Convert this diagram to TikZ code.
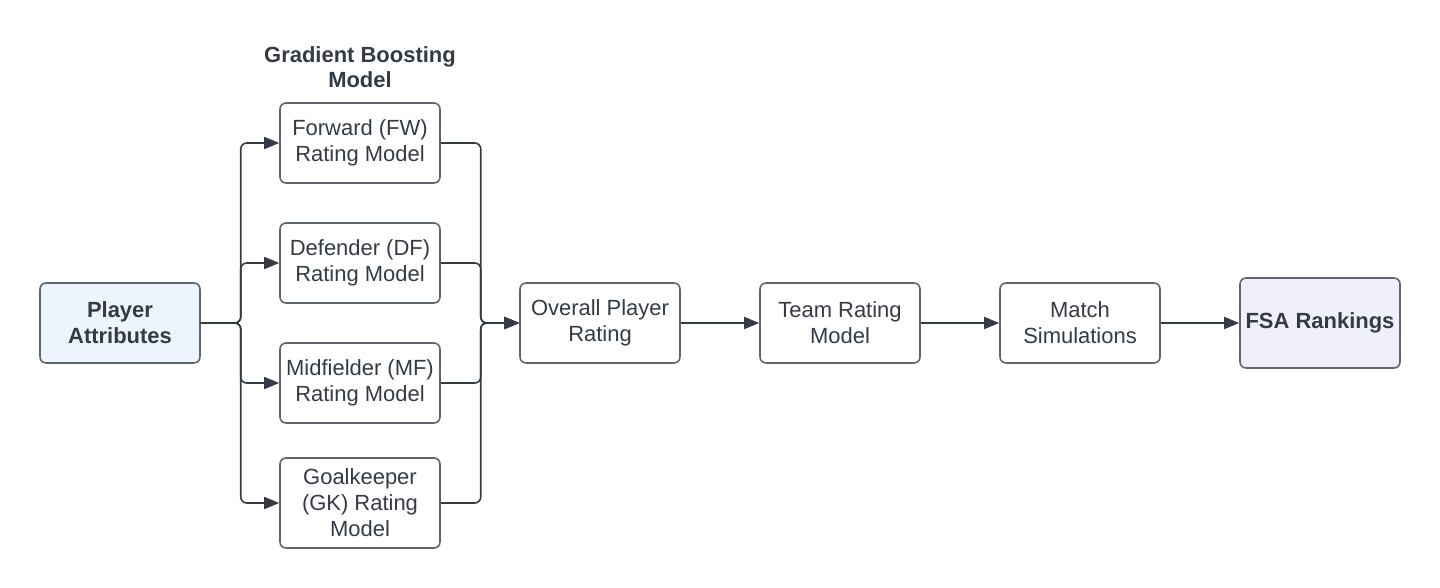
\documentclass[tikz,border=0pt]{standalone}
\usepackage{fontspec}
\setmainfont{Liberation Sans}
\usepackage{xcolor}
\usetikzlibrary{arrows.meta}
\definecolor{ink}{HTML}{343B46}
\definecolor{edge}{HTML}{5E656F}
\definecolor{attrfill}{HTML}{EEF4FE}
\definecolor{rankfill}{HTML}{F0F0FC}

\begin{document}
\begin{tikzpicture}[x=0.02cm, y=-0.02cm,
  every node/.style={font=\fontsize{12.5}{14.8}\selectfont, text=ink, align=center},
  box/.style={rectangle, rounded corners=0.12cm, draw=edge, line width=0.9pt, fill=white, minimum width=3.2cm, minimum height=1.6cm, inner sep=2pt},
  link/.style={draw=ink, line width=0.9pt, rounded corners=0.12cm, -{Triangle[length=0.3cm, width=0.24cm]}}]
\useasboundingbox (0,0) rectangle (1440,588);
% title over the model boxes
\node[font=\fontsize{12.5}{14.4}\selectfont\bfseries] (title) at (360,67.5) {Gradient Boosting\\Model};
% input
\node[box, fill=attrfill, font=\fontsize{12.5}{14.8}\selectfont\bfseries] (attr) at (120,323) {Player\\Attributes};
% position models
\node[box] (fw) at (360,143) {Forward (FW)\\Rating Model};
\node[box] (df) at (360,263) {Defender (DF)\\Rating Model};
\node[box] (mf) at (360,383) {Midfielder (MF)\\Rating Model};
\node[box, minimum height=1.8cm] (gk) at (360,503) {Goalkeeper\\(GK) Rating\\Model};
% pipeline
\node[box] (overall) at (600,323) {Overall Player\\Rating};
\node[box] (team) at (840,323) {Team Rating\\Model};
\node[box] (match) at (1080,323) {Match\\Simulations};
\node[box, fill=rankfill, minimum height=1.8cm, font=\fontsize{12.5}{14.8}\selectfont\bfseries] (rank) at (1320,323) {FSA Rankings};
% split
\draw[link] (attr.east) -- ++(40,0) |- (fw.west);
\draw[link] (attr.east) -- ++(40,0) |- (df.west);
\draw[link] (attr.east) -- ++(40,0) |- (mf.west);
\draw[link] (attr.east) -- ++(40,0) |- (gk.west);
% merge
\draw[link] (fw.east) -- ++(40,0) |- (overall.west);
\draw[link] (df.east) -- ++(40,0) |- (overall.west);
\draw[link] (mf.east) -- ++(40,0) |- (overall.west);
\draw[link] (gk.east) -- ++(40,0) |- (overall.west);
\draw[link] (overall) -- (team);
\draw[link] (team) -- (match);
\draw[link] (match) -- (rank);
\end{tikzpicture}
\end{document}
